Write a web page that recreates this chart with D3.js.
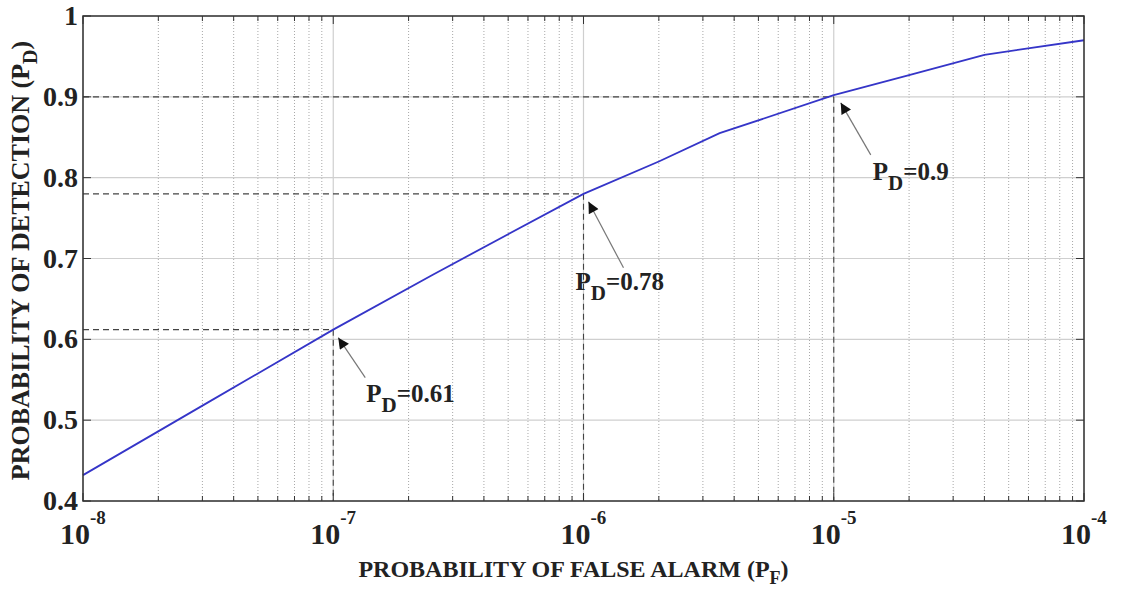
<!DOCTYPE html>
<html>
<head>
<meta charset="utf-8">
<script src="https://cdn.jsdelivr.net/npm/d3@7"></script>
<style>
  body { margin: 0; background: #fff; }
  text { font-family: "Liberation Serif", "DejaVu Serif", serif; font-weight: bold; fill: #222; }
</style>
</head>
<body>
<div id="wrapper"></div>
<script>
// ROC curve: probability of detection vs probability of false alarm

// Data
const pfValues = [1e-8, 3.16e-8, 1e-7, 2.5e-7, 1e-6, 2e-6, 3.5e-6, 1e-5, 2e-5, 4e-5, 1e-4]
const pdValues = [0.432, 0.522, 0.612, 0.68, 0.78, 0.82, 0.855, 0.902, 0.927, 0.952, 0.97]

const markPF = [1e-7, 1e-6, 1e-5]
const markPD = [0.612, 0.78, 0.9]
const markText = ["0.61", "0.78", "0.9"]

const xDecades = [-8, -7, -6, -5, -4]
const yTicks = [0.4, 0.5, 0.6, 0.7, 0.8, 0.9, 1]

function drawChart() {
	let dimensions = {
		width: 1122,
		height: 589,
		margin: { top: 16, right: 38, bottom: 88, left: 83 }
	}
	dimensions.boundedWidth = dimensions.width - dimensions.margin.left - dimensions.margin.right
	dimensions.boundedHeight = dimensions.height - dimensions.margin.top - dimensions.margin.bottom

	const svg = d3.select("#wrapper")
		.append("svg")
		.attr("width", dimensions.width)
		.attr("height", dimensions.height)

	const defs = svg.append("defs")
	defs.append("marker")
		.attr("id", "head")
		.attr("viewBox", "0 0 10 10")
		.attr("refX", 10)
		.attr("refY", 5)
		.attr("markerWidth", 13)
		.attr("markerHeight", 11)
		.attr("markerUnits", "userSpaceOnUse")
		.attr("orient", "auto")
		.append("path")
		.attr("d", "M0,0 L10,5 L0,10 Z")
		.attr("fill", "#111")

	const bounds = svg.append("g")
		.attr("transform", `translate(${dimensions.margin.left},${dimensions.margin.top})`)

	const W = dimensions.boundedWidth
	const H = dimensions.boundedHeight

	const xScale = d3.scaleLog()
		.domain([1e-8, 1e-4])
		.range([0, W])

	const yScale = d3.scaleLinear()
		.domain([0.4, 1])
		.range([H, 0])

	// minor positions 2..9 of each decade
	const minorX = []
	xDecades.slice(0, -1).forEach(e => {
		for (let k = 2; k <= 9; k++) minorX.push(k * Math.pow(10, e))
	})
	const majorX = xDecades.map(e => Math.pow(10, e))

	// grid
	const grid = bounds.append("g")
	grid.selectAll(".minor")
		.data(minorX)
		.join("line")
		.attr("x1", d => xScale(d)).attr("x2", d => xScale(d))
		.attr("y1", 0).attr("y2", H)
		.attr("stroke", "#a8a8a8")
		.attr("stroke-width", 1)
		.attr("stroke-dasharray", "1,2")
	grid.selectAll(".majx")
		.data(majorX)
		.join("line")
		.attr("x1", d => xScale(d)).attr("x2", d => xScale(d))
		.attr("y1", 0).attr("y2", H)
		.attr("stroke", "#cfcfcf")
		.attr("stroke-width", 1.2)
	grid.selectAll(".majy")
		.data(yTicks)
		.join("line")
		.attr("x1", 0).attr("x2", W)
		.attr("y1", d => yScale(d)).attr("y2", d => yScale(d))
		.attr("stroke", "#cfcfcf")
		.attr("stroke-width", 1.2)

	// dashed reference lines
	const refs = bounds.append("g")
		.attr("stroke", "#444")
		.attr("stroke-width", 1.1)
		.attr("stroke-dasharray", "6,4")
	markPF.forEach((pf, i) => {
		refs.append("line")
			.attr("x1", 0).attr("x2", xScale(pf))
			.attr("y1", yScale(markPD[i])).attr("y2", yScale(markPD[i]))
		refs.append("line")
			.attr("x1", xScale(pf)).attr("x2", xScale(pf))
			.attr("y1", yScale(markPD[i])).attr("y2", H)
	})

	// curve
	const lineGenerator = d3.line()
		.x((d, i) => xScale(pfValues[i]))
		.y(d => yScale(d))
	bounds.append("path")
		.attr("d", lineGenerator(pdValues))
		.attr("fill", "none")
		.attr("stroke", "#3535c8")
		.attr("stroke-width", 1.8)

	// box and inward ticks
	bounds.append("rect")
		.attr("width", W).attr("height", H)
		.attr("fill", "none")
		.attr("stroke", "#333")
		.attr("stroke-width", 1.5)

	const ticks = bounds.append("g").attr("stroke", "#333").attr("stroke-width", 1)
	minorX.concat(majorX).forEach(v => {
		const len = majorX.includes(v) ? 8 : 5
		ticks.append("line").attr("x1", xScale(v)).attr("x2", xScale(v)).attr("y1", H).attr("y2", H - len)
		ticks.append("line").attr("x1", xScale(v)).attr("x2", xScale(v)).attr("y1", 0).attr("y2", len)
	})
	yTicks.forEach(v => {
		ticks.append("line").attr("x1", 0).attr("x2", 8).attr("y1", yScale(v)).attr("y2", yScale(v))
		ticks.append("line").attr("x1", W).attr("x2", W - 8).attr("y1", yScale(v)).attr("y2", yScale(v))
	})

	// y tick labels
	bounds.append("g").selectAll("text")
		.data(yTicks)
		.join("text")
		.attr("x", -5)
		.attr("y", d => yScale(d) + 9)
		.attr("text-anchor", "end")
		.style("font-size", "28px")
		.text(d => d === 1 ? "1" : d3.format(".1f")(d))

	// x tick labels 10^e
	const xl = bounds.append("g").selectAll("text")
		.data(xDecades)
		.join("text")
		.attr("x", d => xScale(Math.pow(10, d)) - 23)
		.attr("y", H + 43)
		.style("font-size", "30px")
	xl.append("tspan").text("10")
	xl.append("tspan")
		.attr("dy", -20)
		.style("font-size", "19px")
		.text(d => "-" + Math.abs(d))

	// annotations
	const arrowTails = [[32, 48], [40, 74], [37, 58]]
	const arrowTips = [[5, 8], [5, 8], [7, 6]]
	const textOffsets = [[33, 72], [-8, 96], [39, 83]]
	markPF.forEach((pf, i) => {
		const px = xScale(pf), py = yScale(markPD[i])
		bounds.append("line")
			.attr("x1", px + arrowTails[i][0]).attr("y1", py + arrowTails[i][1])
			.attr("x2", px + arrowTips[i][0]).attr("y2", py + arrowTips[i][1])
			.attr("stroke", "#777")
			.attr("stroke-width", 1.2)
			.attr("marker-end", "url(#head)")
		const t = bounds.append("text")
			.attr("x", px + textOffsets[i][0])
			.attr("y", py + textOffsets[i][1])
			.style("font-size", "25px")
		t.append("tspan").text("P")
		t.append("tspan").attr("dy", 10).style("font-size", "21px").text("D")
		t.append("tspan").attr("dy", -10).text("=" + markText[i])
	})

	// axis titles
	const xt = svg.append("text")
		.attr("x", dimensions.margin.left + W / 2 - 10)
		.attr("y", 577)
		.attr("text-anchor", "middle")
		.style("font-size", "24px")
	xt.append("tspan").text("PROBABILITY OF FALSE ALARM (P")
	xt.append("tspan").attr("dy", 7).style("font-size", "18px").text("F")
	xt.append("tspan").attr("dy", -7).text(")")

	const yt = svg.append("text")
		.attr("transform", `translate(29,${dimensions.margin.top + H / 2 + 2}) rotate(-90)`)
		.attr("text-anchor", "middle")
		.style("font-size", "26px")
	yt.append("tspan").text("PROBABILITY OF DETECTION (P")
	yt.append("tspan").attr("dy", 8).style("font-size", "20px").text("D")
	yt.append("tspan").attr("dy", -8).text(")")
}

drawChart()
</script>
</body>
</html>
